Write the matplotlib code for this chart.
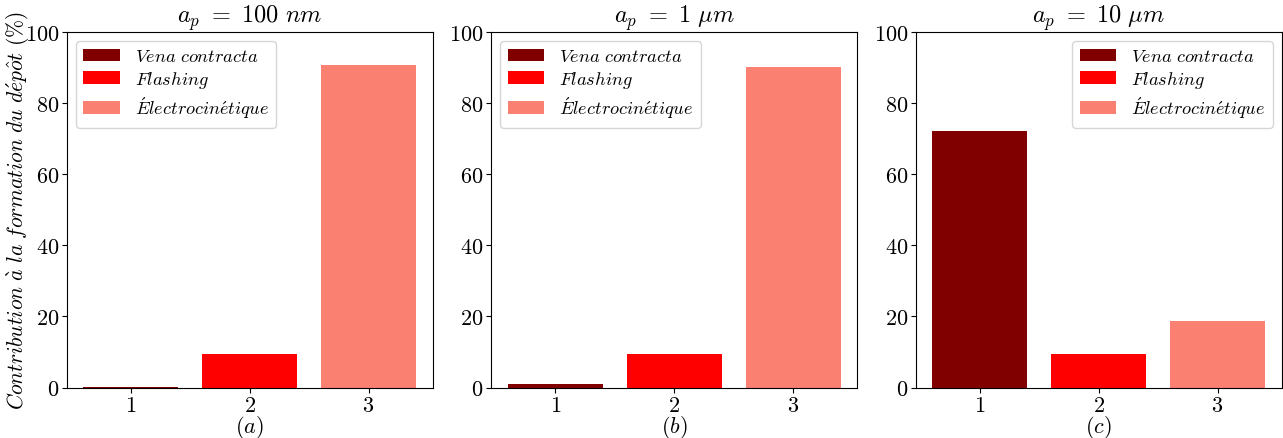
import matplotlib as mpl
import matplotlib.pyplot as plt

# data: contribution (%) of each mechanism, one list per particle size
mechanisms = [1, 2, 3]
mech_labels = [r"$Vena\ contracta$", r"$Flashing$", r"$\acute{E}lectrocin\acute{e}tique$"]
mech_colors = ["maroon", "red", "salmon"]
sizes = [r"$a_p\ =\ 100\ nm$", r"$a_p\ =\ 1\ \mu m$", r"$a_p\ =\ 10\ \mu m$"]
panels = [r"$(a)$", r"$(b)$", r"$(c)$"]
contrib_100nm = [0.2, 9.3, 90.7]
contrib_1um = [0.85, 9.3, 90.1]
contrib_10um = [72.1, 9.3, 18.6]
legend_loc = ["upper left", "upper left", "upper right"]

mpl.rcParams["mathtext.fontset"] = "cm"
mpl.rcParams["font.family"] = "serif"
mpl.rcParams["font.serif"] = ["cmr10"]
mpl.rcParams["axes.formatter.use_mathtext"] = True
mpl.rcParams["font.size"] = 16

fig, axes = plt.subplots(1, 3, figsize=(12.83, 4.39), dpi=100)
fig.subplots_adjust(left=0.052, right=0.999, bottom=0.115, top=0.925, wspace=0.16)

for i, (ax, vals) in enumerate(zip(axes, [contrib_100nm, contrib_1um, contrib_10um])):
    for x, v, c, lab in zip(mechanisms, vals, mech_colors, mech_labels):
        ax.bar(x, v, width=0.8, color=c, label=lab)
    ax.set_ylim(0, 100)
    ax.set_xticks(mechanisms)
    ax.set_yticks([0, 20, 40, 60, 80, 100])
    ax.set_title(sizes[i], fontsize=17.5, pad=4)
    ax.set_xlabel(panels[i], fontsize=16, labelpad=-1)
    ax.tick_params(labelsize=16, pad=2)
    ax.legend(loc=legend_loc[i], fontsize=13.2, labelspacing=0.25)

axes[0].set_ylabel(r"$Contribution\ \grave{a}\ la\ formation\ du\ d\acute{e}p\hat{o}t$ (%)",
                   fontsize=15.5)
axes[0].yaxis.set_label_coords(-0.098, 0.5)

fig.savefig("out.png", dpi=100)
